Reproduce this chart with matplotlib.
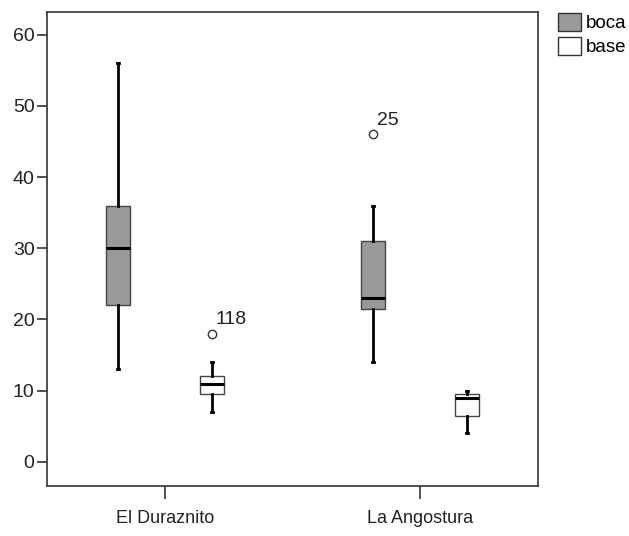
import matplotlib
matplotlib.use("Agg")
import matplotlib.pyplot as plt
from matplotlib.patches import Patch

plt.rcParams['font.family'] = ['Liberation Sans', 'DejaVu Sans']

groups = ["El Duraznito", "La Angostura"]
series = ["boca", "base"]
colors = ["#999999", "#ffffff"]

# five-number summaries per series, per group: [whislo, q1, med, q3, whishi]
boca_stats = [[13, 22, 30, 36, 56], [14, 21.5, 23, 31, 36]]
base_stats = [[7, 9.5, 11, 12, 14], [4, 6.5, 9, 9.5, 10]]
boca_outliers = [[], [46]]
base_outliers = [[18], []]
boca_labels = [[], ["25"]]
base_labels = [["118"], []]

yticks = [0, 10, 20, 30, 40, 50, 60]

fig = plt.figure(figsize=(6.29, 5.36), dpi=100)
ax = fig.add_axes([47/629, 1-486/536, (538-47)/629, (486-12)/536])

offset = 0.184
width = 0.094

for si, (stats_list, outs, labs, col) in enumerate([
        (boca_stats, boca_outliers, boca_labels, colors[0]),
        (base_stats, base_outliers, base_labels, colors[1])]):
    sgn = -1 if si == 0 else 1
    bstats = []
    for gi, s in enumerate(stats_list):
        bstats.append(dict(whislo=s[0], q1=s[1], med=s[2], q3=s[3], whishi=s[4],
                           fliers=outs[gi]))
    pos = [gi + sgn * offset for gi in range(len(groups))]
    ax.bxp(bstats, positions=pos, widths=width, patch_artist=True,
           showfliers=True, manage_ticks=False,
           boxprops=dict(facecolor=col, edgecolor="#444444", linewidth=1.0),
           medianprops=dict(color="black", linewidth=2.2),
           whiskerprops=dict(color="black", linewidth=2.0),
           capprops=dict(color="black", linewidth=2.0),
           capwidths=0.01,
           flierprops=dict(marker="o", markerfacecolor="white",
                           markeredgecolor="#333333", markersize=6,
                           markeredgewidth=1.0))
    for gi in range(len(groups)):
        for v, t in zip(outs[gi], labs[gi]):
            ax.annotate(t, (pos[gi], v), xytext=(2.5, 4), textcoords="offset points",
                        fontsize=14, color="#222222", ha="left", va="bottom")

ax.set_xlim(-0.463, 1.463)
ax.set_ylim(-3.4, 63.2)
ax.set_xticks(range(len(groups)))
ax.set_xticklabels(groups, fontsize=13, color="#222222")
ax.set_yticks(yticks)
ax.set_yticklabels([str(t) for t in yticks], fontsize=14, color="#222222")
ax.tick_params(axis="x", length=9, width=1.2, color="#333333", pad=8)
ax.tick_params(axis="y", length=7.5, width=1.2, color="#333333", pad=1.5)
for sp in ax.spines.values():
    sp.set_linewidth(1.2)
    sp.set_color("#333333")

handles = [Patch(facecolor=c, edgecolor="#333333", label=l) for c, l in zip(colors, series)]
fig.legend(handles=handles, loc="upper left", bbox_to_anchor=(558/629, 1-13/536),
           frameon=False, fontsize=13.5, handlelength=1.22, handleheight=1.12,
           handletextpad=0.25, labelspacing=0.22, borderaxespad=0, borderpad=0)

fig.savefig("out.png", dpi=100)
